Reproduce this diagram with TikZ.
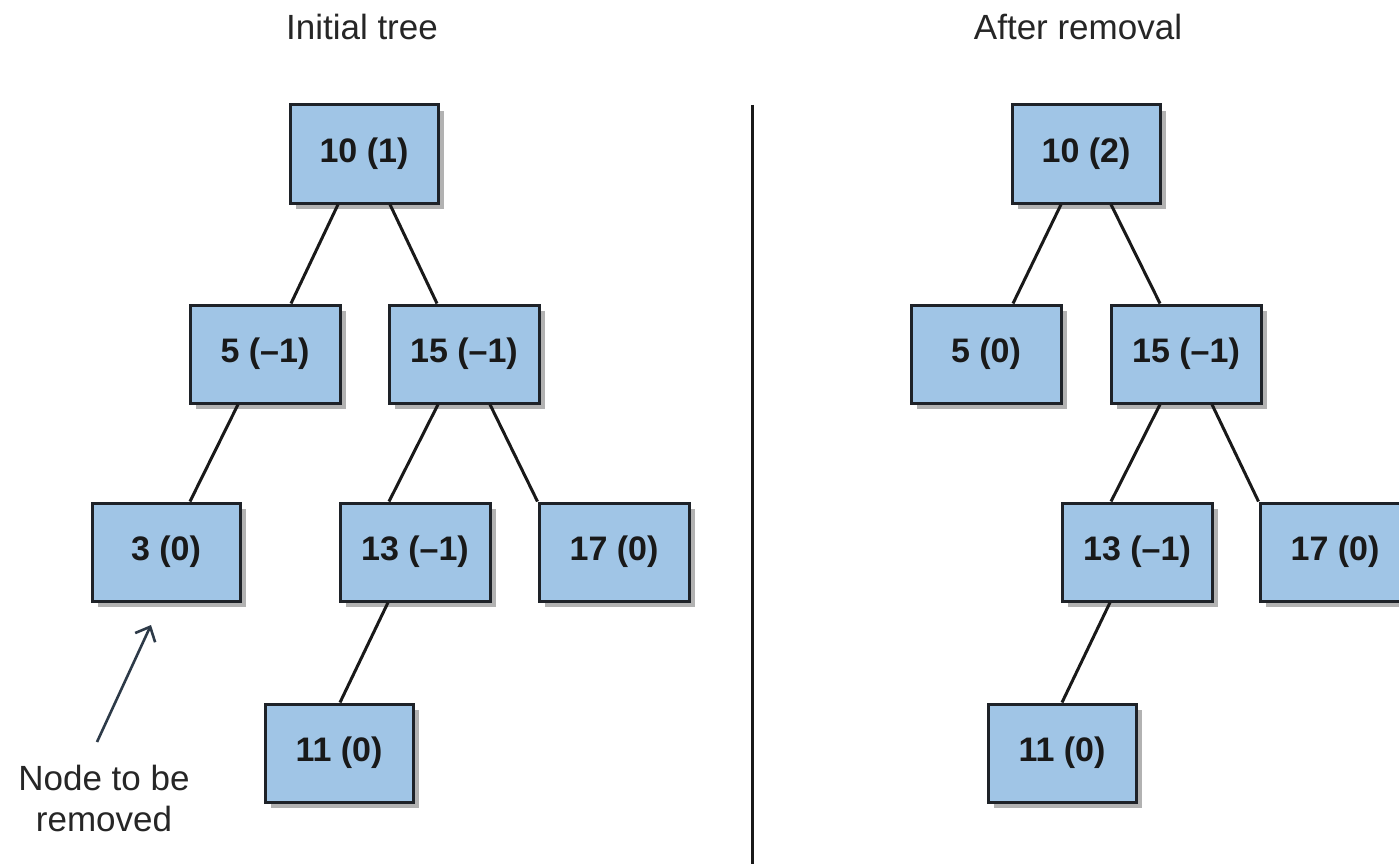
\documentclass[tikz,border=0pt]{standalone}
\usepackage{fontspec}
\setmainfont{Liberation Sans}
\usetikzlibrary{shadows,arrows.meta}
\definecolor{boxfill}{RGB}{160,197,230}
\definecolor{boxline}{RGB}{30,34,40}
\definecolor{arrowcol}{RGB}{45,58,72}
\tikzset{
  treenode/.style={draw=boxline, line width=3pt, fill=boxfill,
    minimum width=148pt, minimum height=98pt, inner sep=0pt,
    font=\fontsize{34}{40}\selectfont\bfseries, text=black!90,
    drop shadow={shadow xshift=6pt, shadow yshift=-6pt, fill=black!30, opacity=1}},
  edge/.style={line width=3pt, draw=black!90},
  title/.style={font=\fontsize{35}{40}\selectfont, text=black!85}
}
\begin{document}
\begin{tikzpicture}[x=1pt,y=-1pt]
\useasboundingbox (0,0) rectangle (1399,864);
\fill[white] (0,0) rectangle (1399,864);

% titles
\node[title] (t1) at (362,27) {Initial tree};
\node[title] (t2) at (1078,27) {After removal};

% divider
\coordinate (d1) at (752,105);
\coordinate (d2) at (752,864);
\draw[line width=3pt, draw=black!90] (d1) -- (d2);

% initial tree
\node[treenode] (a10) at (364,154) {10 (1)};
\node[treenode, minimum width=150pt] (a5) at (265,354) {5 (\textendash1)};
\node[treenode, minimum width=150pt] (a15) at (464,354) {15 (\textendash1)};
\node[treenode] (a3) at (166,552) {3 (0)};
\node[treenode, minimum width=150pt] (a13) at (415,552) {13 (\textendash1)};
\node[treenode, minimum width=150pt] (a17) at (614,552) {17 (0)};
\node[treenode] (a11) at (339,753) {11 (0)};

\draw[edge] ([xshift=-26pt]a10.south) -- ([xshift=26pt]a5.north);
\draw[edge] ([xshift=26pt]a10.south) -- ([xshift=-27pt]a15.north);
\draw[edge] ([xshift=-27pt]a5.south) -- ([xshift=24pt]a3.north);
\draw[edge] ([xshift=-26pt]a15.south) -- ([xshift=-26pt]a13.north);
\draw[edge] ([xshift=26pt]a15.south) -- (a17.north west);
\draw[edge] ([xshift=-27pt]a13.south) -- ([xshift=1pt]a11.north);

% removal annotation
\node[font=\fontsize{35}{41}\selectfont, align=center, text=black!85] (lbl) at (104,798) {Node to be\\removed};
\coordinate (pa) at (97,742);
\coordinate (pb) at (151,625);
\draw[line width=2.6pt, draw=arrowcol, -{Straight Barb[length=12pt,width=22pt]}] (pa) -- (pb);

% tree after removal
\node[treenode] (b10) at (1086,154) {10 (2)};
\node[treenode, minimum width=150pt] (b5) at (986,354) {5 (0)};
\node[treenode, minimum width=150pt] (b15) at (1186,354) {15 (\textendash1)};
\node[treenode, minimum width=150pt] (b13) at (1137,552) {13 (\textendash1)};
\node[treenode, minimum width=150pt] (b17) at (1335,552) {17 (0)};
\node[treenode] (b11) at (1062,753) {11 (0)};

\draw[edge] ([xshift=-25pt]b10.south) -- ([xshift=27pt]b5.north);
\draw[edge] ([xshift=25pt]b10.south) -- ([xshift=-26pt]b15.north);
\draw[edge] ([xshift=-26pt]b15.south) -- ([xshift=-26pt]b13.north);
\draw[edge] ([xshift=26pt]b15.south) -- (b17.north west);
\draw[edge] ([xshift=-27pt]b13.south) -- (b11.north);
\end{tikzpicture}
\end{document}
